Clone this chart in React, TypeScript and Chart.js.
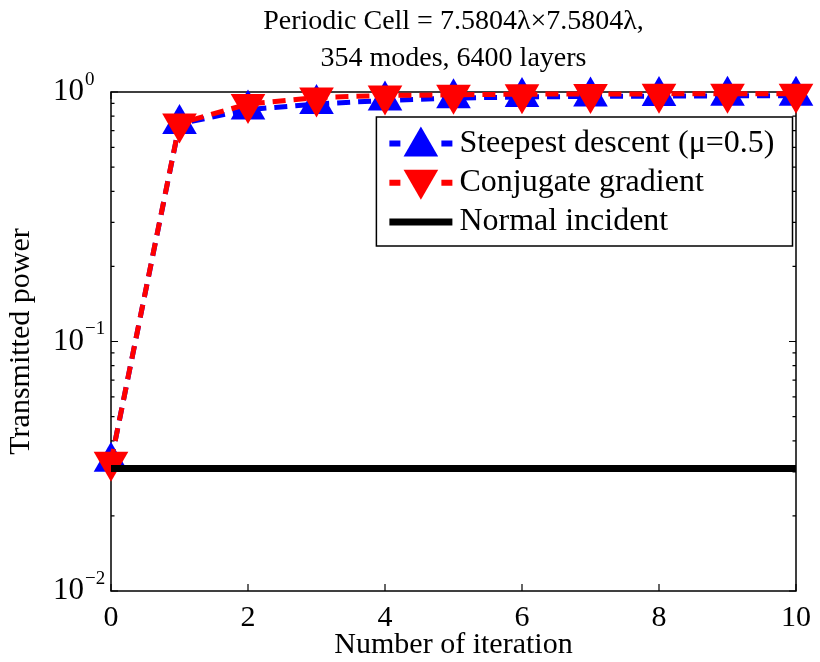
import React, { useEffect, useRef } from 'react';
import { Chart, registerables } from 'chart.js';

Chart.register(...registerables);

// ---- data ----
const iterations = [0, 1, 2, 3, 4, 5, 6, 7, 8, 9, 10];
const steepestDescent = [0.033, 0.745, 0.85, 0.895, 0.925, 0.945, 0.955, 0.96, 0.963, 0.965, 0.967];
const conjugateGradient = [0.033, 0.748, 0.895, 0.95, 0.968, 0.975, 0.98, 0.982, 0.983, 0.984, 0.985];
const normalX = [0, 10];
const normalY = [0.031, 0.031];

const xTicks = [0, 2, 4, 6, 8, 10];
const yTicks = [0.01, 0.1, 1];
const yTickBase = ['10', '10', '10'];
const yTickExponents = ['\u22122', '\u22121', '0'];
const titleLines = ['Periodic Cell = 7.5804\u03BB\u00D77.5804\u03BB,', '354 modes, 6400 layers'];
const seriesLabels = ['Steepest descent (\u03BC=0.5)', 'Conjugate gradient', 'Normal incident'];
const xTitle = 'Number of iteration';
const yTitle = 'Transmitted power';

const FONT = '"Liberation Serif", "Times New Roman", serif';
const BLUE = 'rgb(0,0,255)';
const RED = 'rgb(255,0,0)';
const BLACK = 'rgb(0,0,0)';

function drawTri(ctx: CanvasRenderingContext2D, x: number, y: number, r: number, rotDeg: number, color: string) {
  let rad = (rotDeg * Math.PI) / 180;
  ctx.beginPath();
  for (let i = 0; i < 3; i++) {
    const px = x + Math.sin(rad) * r;
    const py = y - Math.cos(rad) * r;
    if (i === 0) ctx.moveTo(px, py);
    else ctx.lineTo(px, py);
    rad += (2 * Math.PI) / 3;
  }
  ctx.closePath();
  ctx.fillStyle = color;
  ctx.fill();
}

const framePlugin = {
  id: 'frame',
  beforeDatasetsDraw(chart: any) {
    const { ctx, chartArea, scales } = chart;
    const { left, right, top, bottom } = chartArea;
    ctx.save();
    ctx.strokeStyle = '#000';
    ctx.lineWidth = 1.5;
    ctx.strokeRect(left, top, right - left, bottom - top);
    ctx.lineWidth = 1.2;
    ctx.beginPath();
    xTicks.forEach((v) => {
      const px = scales.x.getPixelForValue(v);
      ctx.moveTo(px, bottom);
      ctx.lineTo(px, bottom - 7);
      ctx.moveTo(px, top);
      ctx.lineTo(px, top + 7);
    });
    for (let d = -2; d <= 0; d++) {
      for (let m = 1; m <= 9; m++) {
        const val = m * Math.pow(10, d);
        if (val > 1.0001) break;
        const len = m === 1 ? 7 : 3.5;
        const py = scales.y.getPixelForValue(val);
        ctx.moveTo(left, py);
        ctx.lineTo(left + len, py);
        ctx.moveTo(right, py);
        ctx.lineTo(right - len, py);
      }
    }
    ctx.stroke();
    ctx.restore();
  },
  afterDraw(chart: any) {
    // exponents of the y tick labels (10^n)
    const { ctx, chartArea, scales } = chart;
    ctx.save();
    ctx.font = `19px ${FONT}`;
    ctx.fillStyle = '#000';
    ctx.textAlign = 'left';
    ctx.textBaseline = 'middle';
    yTicks.forEach((v, i) => {
      const py = scales.y.getPixelForValue(v);
      ctx.fillText(yTickExponents[i], chartArea.left - 26, py - 12);
    });
    ctx.restore();
  },
};

const legendPlugin = {
  id: 'boxLegend',
  afterDraw(chart: any) {
    const { ctx, chartArea } = chart;
    ctx.save();
    ctx.font = `32px ${FONT}`;
    const textW = Math.max(...seriesLabels.map((s) => ctx.measureText(s).width));
    const sampleLeft = 13;
    const sampleLen = 63;
    const textGap = 7;
    const rightPad = 18;
    const width = sampleLeft + sampleLen + textGap + textW + rightPad;
    const height = 129;
    const boxRight = chartArea.right - 3.5;
    const boxTop = chartArea.top + 25;
    const boxLeft = boxRight - width;
    ctx.fillStyle = '#fff';
    ctx.fillRect(boxLeft, boxTop, width, height);
    ctx.strokeStyle = '#000';
    ctx.lineWidth = 1.5;
    ctx.strokeRect(boxLeft, boxTop, width, height);

    const colors = [BLUE, RED, BLACK];
    seriesLabels.forEach((label, i) => {
      const cy = boxTop + 26.6 + i * 39.2;
      const x0 = boxLeft + sampleLeft;
      const x1 = x0 + sampleLen;
      const cx = (x0 + x1) / 2;
      ctx.strokeStyle = colors[i];
      ctx.lineCap = 'butt';
      if (i < 2) {
        ctx.lineWidth = 6;
        ctx.beginPath();
        ctx.moveTo(x0, cy);
        ctx.lineTo(x0 + 11, cy);
        ctx.moveTo(x1 - 11, cy);
        ctx.lineTo(x1, cy);
        ctx.stroke();
        drawTri(ctx, cx, cy + (i === 0 ? 3 : -3), 20, i === 0 ? 0 : 180, colors[i]);
      } else {
        ctx.lineWidth = 7;
        ctx.beginPath();
        ctx.moveTo(x0, cy);
        ctx.lineTo(x1, cy);
        ctx.stroke();
      }
      ctx.fillStyle = '#000';
      ctx.textBaseline = 'middle';
      ctx.textAlign = 'left';
      ctx.fillText(label, x1 + textGap, cy);
    });
    ctx.restore();
  },
};

export default function App() {
  const ref = useRef<HTMLCanvasElement | null>(null);
  useEffect(() => {
    if (!ref.current) return;
    const chart = new Chart(ref.current, {
      type: 'line',
      data: {
        datasets: [
          {
            label: seriesLabels[0],
            data: iterations.map((x, i) => ({ x, y: steepestDescent[i] })),
            borderColor: BLUE,
            backgroundColor: BLUE,
            borderWidth: 5,
            borderDash: [13, 8],
            pointStyle: 'triangle',
            pointRadius: 20,
            pointBorderWidth: 0,
            pointBackgroundColor: BLUE,
            pointBorderColor: BLUE,
            order: 3,
            clip: false,
            tension: 0,
          } as any,
          {
            label: seriesLabels[1],
            data: iterations.map((x, i) => ({ x, y: conjugateGradient[i] })),
            borderColor: RED,
            backgroundColor: RED,
            borderWidth: 5,
            borderDash: [13, 8],
            pointStyle: 'triangle',
            pointRotation: 180,
            pointRadius: 20,
            pointBorderWidth: 0,
            pointBackgroundColor: RED,
            pointBorderColor: RED,
            order: 2,
            clip: false,
            tension: 0,
          } as any,
          {
            label: seriesLabels[2],
            data: normalX.map((x, i) => ({ x, y: normalY[i] })),
            borderColor: BLACK,
            backgroundColor: BLACK,
            borderWidth: 7,
            pointRadius: 0,
            order: 1,
            clip: false,
            tension: 0,
          } as any,
        ],
      },
      options: {
        responsive: false,
        animation: false,
        events: [],
        layout: { padding: { top: 0, right: 19, bottom: 0, left: 0 } },
        plugins: {
          legend: { display: false },
          tooltip: { enabled: false },
          title: {
            display: true,
            text: titleLines,
            color: '#000',
            fullSize: false,
            font: { family: FONT, size: 28, weight: 'normal', lineHeight: 37 / 28 },
            padding: { top: 3, bottom: 15 },
          },
        },
        scales: {
          x: {
            type: 'linear',
            min: 0,
            max: 10,
            grid: { display: false, drawTicks: false },
            border: { display: false },
            afterBuildTicks: (scale: any) => {
              scale.ticks = xTicks.map((v) => ({ value: v }));
            },
            afterFit: (scale: any) => {
              scale.height = 71;
            },
            ticks: {
              autoSkip: false,
              maxRotation: 0,
              padding: 9,
              color: '#000',
              font: { family: FONT, size: 30 },
              callback: (v: any) => String(v),
            },
            title: {
              display: true,
              text: xTitle,
              color: '#000',
              font: { family: FONT, size: 30, lineHeight: 34 / 30 },
              padding: 0,
            },
          },
          y: {
            type: 'logarithmic',
            min: 0.01,
            max: 1,
            grid: { display: false, drawTicks: false },
            border: { display: false },
            afterBuildTicks: (scale: any) => {
              scale.ticks = yTicks.map((v) => ({ value: v }));
            },
            afterFit: (scale: any) => {
              scale.width = 111;
            },
            ticks: {
              autoSkip: false,
              padding: 27,
              color: '#000',
              font: { family: FONT, size: 31 },
              callback: (_v: any, i: number) => yTickBase[i],
            },
            title: {
              display: true,
              text: yTitle,
              color: '#000',
              font: { family: FONT, size: 30, lineHeight: 42 / 30 },
              padding: 0,
            },
          },
        },
      } as any,
      plugins: [framePlugin, legendPlugin],
    });
    return () => chart.destroy();
  }, []);

  return (
    <div style={{ position: 'fixed', left: 0, top: 0, width: 820, height: 662, background: '#fff' }}>
      <canvas ref={ref} width={820} height={662} style={{ display: 'block' }} />
    </div>
  );
}
